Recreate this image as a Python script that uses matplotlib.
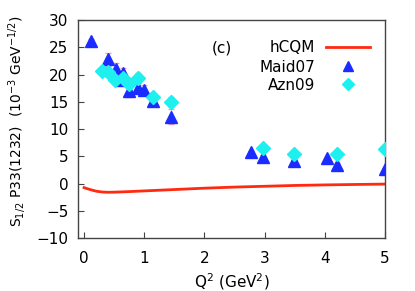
import matplotlib
matplotlib.use('Agg')
import matplotlib.pyplot as plt
from matplotlib.legend import Legend
import numpy as np

plt.rcParams['font.family'] = ['DejaVu Sans']
plt.rcParams['mathtext.default'] = 'regular'

# hCQM curve
q2_model = [0.0, 0.1, 0.2, 0.3, 0.4, 0.5, 0.7, 1.0, 1.5, 2.0, 2.5, 3.0, 3.5, 4.0, 4.5, 5.0]
s12_model = [-0.75, -1.1, -1.4, -1.55, -1.6, -1.58, -1.5, -1.35, -1.1, -0.85, -0.65, -0.5, -0.35, -0.25, -0.17, -0.1]

# Maid07
q2_maid = [0.12, 0.40, 0.53, 0.65, 0.62, 0.75, 0.89, 1.0, 1.15, 1.45, 2.78, 2.98, 3.49, 4.03, 4.2, 5.0]
s12_maid = [26.2, 22.8, 21.1, 20.2, 19.0, 16.9, 17.6, 17.2, 15.2, 12.3, 5.7, 4.9, 4.1, 4.6, 3.4, 2.6]
err_maid = [0.4, 1.2, 1.0, 1.0, 0.9, 1.1, 0.9, 0.9, 0.9, 1.3, 0.3, 0.3, 0.3, 0.3, 0.3, 0.3]

# Azn09
q2_azn = [0.29, 0.40, 0.52, 0.64, 0.75, 0.90, 1.15, 1.45, 2.98, 3.49, 4.2, 5.0]
s12_azn = [20.6, 20.5, 19.0, 19.4, 18.3, 19.3, 15.9, 15.0, 6.5, 5.5, 5.35, 6.3]
err_azn = [0.5, 0.5, 0.6, 0.6, 0.6, 0.9, 0.6, 0.9, 0.3, 0.3, 0.3, 0.3]

fig = plt.figure(figsize=(4.15, 2.91), dpi=100)
ax = fig.add_axes([0.188, 0.182, 0.740, 0.749])

line, = ax.plot(q2_model, s12_model, color='#ff2a10', lw=2, zorder=2)
ax.errorbar(q2_maid, s12_maid, yerr=err_maid, fmt='none', ecolor='#f4a0a0', elinewidth=0.8, capsize=2, zorder=3)
ax.errorbar(q2_azn, s12_azn, yerr=err_azn, fmt='none', ecolor='#90e090', elinewidth=0.8, capsize=2, zorder=3)
tri, = ax.plot(q2_maid, s12_maid, '^', color='#1a2cff', ms=8, ls='none', zorder=4)
dia, = ax.plot(q2_azn, s12_azn, 'D', color='#1ef0f0', ms=7, ls='none', zorder=5)

ax.set_xlim(-0.1, 5.0)
ax.set_ylim(-10, 30)
ax.set_xticks([0, 1, 2, 3, 4, 5])
ax.set_yticks(np.arange(-10, 31, 5))
ax.tick_params(direction='in', labelsize=11, length=4, color='#444444')
ax.tick_params(axis='x', pad=9)
ax.tick_params(axis='y', pad=7)
for s in ax.spines.values():
    s.set_color('#444444')
    s.set_linewidth(1.0)

ax.set_xlabel('Q$^2$ (GeV$^2$)', fontsize=11, labelpad=4)
ax.set_ylabel('S$_{1/2}$ P33(1232)  (10$^{-3}$ GeV$^{-1/2}$)', fontsize=10)
ax.yaxis.set_label_coords(-0.163, 0.537)

ax.text(0.436, 0.872, '(c)', transform=ax.transAxes, fontsize=11, va='center')

# one legend per entry so the labels line up on the right like gnuplot's key
entries = [(line, 'hCQM', 0.872), (tri, 'Maid07', 0.784), (dia, 'Azn09', 0.702)]
for h, lab, yy in entries:
    leg = Legend(ax, [h], [lab], loc='center right', bbox_to_anchor=(0.951, yy),
                 markerfirst=False, frameon=False, fontsize=11, handlelength=2.9,
                 handletextpad=0.7, borderpad=0, borderaxespad=0, numpoints=1,
                 markerscale=0.9)
    ax.add_artist(leg)

fig.savefig('out.png', dpi=100)
